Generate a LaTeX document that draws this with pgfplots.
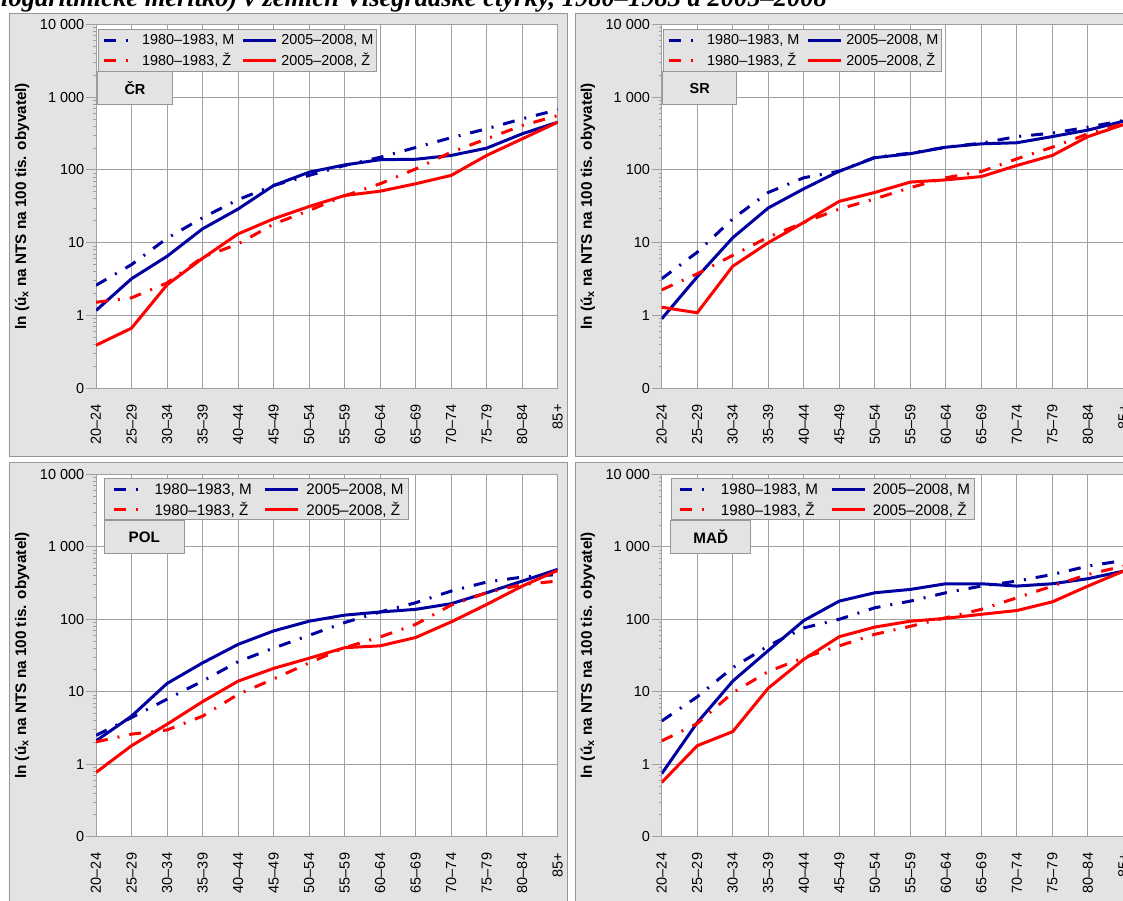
\documentclass[border=0pt]{standalone}
\usepackage{fontspec}
\setmainfont{Liberation Sans}
\newfontfamily\titlefont{Liberation Serif}
\usepackage{pgfplots}
\pgfplotsset{compat=1.18}
\usepackage{pgfplotstable}

\definecolor{bg}{RGB}{227,227,227}
\definecolor{gridc}{RGB}{160,160,160}
\definecolor{bordc}{RGB}{150,150,150}
\definecolor{mblue}{RGB}{0,0,160}
\definecolor{zred}{RGB}{255,0,0}

% columns: x, 1980-83 M, 2005-08 M, 1980-83 Z, 2005-08 Z
\pgfplotstableread{
x m80 m05 z80 z05
0 2.6 1.17 1.52 0.39
1 5.0 3.2 1.75 0.67
2 11.5 6.5 2.8 2.64
3 22 15.5 6.3 6.1
4 39 29 9.6 13.2
5 61 61 18 21.3
6 84 93 27.7 31.4
7 115 117 44 44.5
8 149 138 64.5 51
9 203 140 103 64.5
10 277 158 175 84
11 367 199 267 158
12 503 313 407 267
13 670 452 558 452
}\tabCR
\pgfplotstableread{
x m80 m05 z80 z05
0 3.2 0.90 2.25 1.3
1 7.4 3.4 3.74 1.09
2 21.3 11.7 6.7 4.75
3 49 30 11.9 10
4 78 55 19 19
5 96 96 29 37
6 149 147 40 49
7 170 167 57 68
8 205 205 78 73
9 233 228 95 81
10 287 236 142 115
11 320 287 205 158
12 386 352 313 287
13 477 466 430 418
}\tabSR
\pgfplotstableread{
x m80 m05 z80 z05
0 2.5 2.1 2.03 0.77
1 4.4 4.6 2.6 1.8
2 7.9 13 2.97 3.56
3 14 25 4.6 7.3
4 26 45 9.2 14
5 40 69 15 21
6 60 94 25 29
7 90 114 40.5 40.5
8 126 126 57 43
9 169 137 85 56
10 245 164 157 92
11 326 232 232 160
12 382 336 302 287
13 414 487 336 471
}\tabPOL
\pgfplotstableread{
x m80 m05 z80 z05
0 3.95 0.74 2.1 0.56
1 8.5 3.75 3.63 1.8
2 21.5 14 9.7 2.82
3 43 37 19 11.2
4 76 96 29.5 28
5 100 178 43 57.5
6 144 232 62 78
7 178 258 80 94
8 232 309 105 103
9 287 309 137 117
10 336 287 198 132
11 415 309 287 174
12 541 363 415 287
13 647 461 541 461
}\tabMAD

\tikzset{
  dd/.style={line width=3pt, dash pattern=on 12pt off 10pt on 2pt off 10pt},
  sl/.style={line width=3pt},
}
\pgfkeys{/pgf/number format/assume math mode=true}
\pgfplotsset{
  vfourpanel/.style={
    scale only axis, width=461.7pt,
    ymin=0.1, ymax=10000,
    xmin=0, xmax=13,
    xtick={0,...,13},
    xticklabels={20–24,25–29,30–34,35–39,40–44,45–49,50–54,55–59,60–64,65–69,70–74,75–79,80–84,85+},
    ytick={0.1,1,10,100,1000,10000},
    yticklabels={0,1,10,100,1\ 000,10\ 000},
    grid=major,
    major grid style={gridc, line width=0.9pt},
    axis line style={gridc, line width=1pt},
    axis background/.style={fill=white},
    tick align=outside, tick pos=left,
    major tick length=10pt,
    ytick style={gridc, line width=0.9pt},
    xtick style={draw=none},
    tick label style={font=\fontsize{14.5pt}{17pt}\selectfont},
    x tick label style={rotate=90, anchor=east, inner xsep=6pt, inner ysep=1pt},
    y tick label style={inner sep=1.5pt},
    ylabel={ln (ú\textsubscript{x} na NTS na 100 tis. obyvatel)},
    ylabel style={font=\bfseries\fontsize{15.3pt}{18pt}\selectfont, at={(axis description cs:-0.160,0.5)}, anchor=center},
    legend columns=2,
    legend cell align=left,
    legend style={anchor=north west, fill=bg, draw=bordc, line width=1pt,
      inner ysep=1pt, row sep=0pt,
      nodes={inner sep=0pt}},
    no markers,
  },
  toplegend/.style={
    legend image code/.code={\path[draw=none, fill=none] (-3pt,-9.8pt) rectangle (38pt,9.8pt);
      \draw[##1, line width=3pt] (0pt,0pt) -- (33pt,0pt);},
    legend style={font=\fontsize{14.4pt}{17pt}\selectfont, inner xsep=3pt,
      /tikz/every even column/.append style={column sep=6pt}},
  },
  botlegend/.style={
    legend image code/.code={\path[draw=none, fill=none] (-3.7pt,-9.8pt) rectangle (41pt,9.8pt);
      \draw[##1, line width=3pt] (0pt,0pt) -- (33pt,0pt);},
    legend style={font=\fontsize{15.2pt}{18pt}\selectfont, inner xsep=5pt,
      /tikz/every even column/.append style={column sep=10pt}},
  },
}

\newcommand{\panelplots}[1]{%
  \addplot[mblue, dd] table[x=x,y=m80]{#1}; \addlegendentry{1980–1983, M}
  \addplot[mblue, sl] table[x=x,y=m05]{#1}; \addlegendentry{2005–2008, M}
  \addplot[zred, dd] table[x=x,y=z80]{#1}; \addlegendentry{1980–1983, Ž}
  \addplot[zred, sl] table[x=x,y=z05]{#1}; \addlegendentry{2005–2008, Ž}
}

\begin{document}
\begin{tikzpicture}
% panel backgrounds
\filldraw[fill=bg, draw=bordc, line width=1pt] (9pt,443.3pt) rectangle (567.3pt,886.7pt);
\filldraw[fill=bg, draw=bordc, line width=1pt] (575pt,443.3pt) rectangle (1140pt,886.7pt);
\filldraw[fill=bg, draw=bordc, line width=1pt] (9pt,-20pt) rectangle (567.3pt,437.3pt);
\filldraw[fill=bg, draw=bordc, line width=1pt] (575pt,-20pt) rectangle (1140pt,437.3pt);

% title (partly cut at the top)
\node[anchor=base west, inner sep=0pt, font=\titlefont\bfseries\itshape\fontsize{26.5pt}{30pt}\selectfont] at (1pt,893.3pt)
  {logaritmické měřítko) v zemích Visegrádské čtyřky, 1980–1983 a 2005–2008};

\begin{semilogyaxis}[vfourpanel, toplegend, at={(96pt,511.7pt)}, anchor=south west, height=364pt,
  legend style={at={(0.0037,0.986)}}]
\panelplots{\tabCR}
\end{semilogyaxis}

\begin{semilogyaxis}[vfourpanel, toplegend, at={(661.7pt,511.7pt)}, anchor=south west, height=364pt,
  legend style={at={(0.0022,0.986)}}]
\panelplots{\tabSR}
\end{semilogyaxis}

\begin{semilogyaxis}[vfourpanel, botlegend, at={(96pt,63.3pt)}, anchor=south west, height=362.4pt,
  legend style={at={(0.0180,0.989)}}]
\panelplots{\tabPOL}
\end{semilogyaxis}

\begin{semilogyaxis}[vfourpanel, botlegend, at={(661.7pt,63.3pt)}, anchor=south west, height=362.4pt,
  legend style={at={(0.0195,0.989)}}]
\panelplots{\tabMAD}
\end{semilogyaxis}

% panel name boxes
\tikzset{pname/.style={fill=bg, draw=bordc, line width=1pt, inner sep=0pt, minimum height=33.3pt, font=\bfseries\fontsize{14.5pt}{17pt}\selectfont}}
\node[pname, minimum width=74.6pt] at (135pt,811.7pt) {ČR};
\node[pname, minimum width=74pt] at (699.7pt,811.7pt) {SR};
\node[pname, minimum width=80pt, font=\bfseries\fontsize{15.2pt}{18pt}\selectfont] at (144.3pt,363pt) {POL};
\node[pname, minimum width=80pt, font=\bfseries\fontsize{15.2pt}{18pt}\selectfont] at (710.7pt,363pt) {MAĎ};

\pgfresetboundingbox
\useasboundingbox (0pt,0pt) rectangle (1123pt,900pt);
\end{tikzpicture}
\end{document}
